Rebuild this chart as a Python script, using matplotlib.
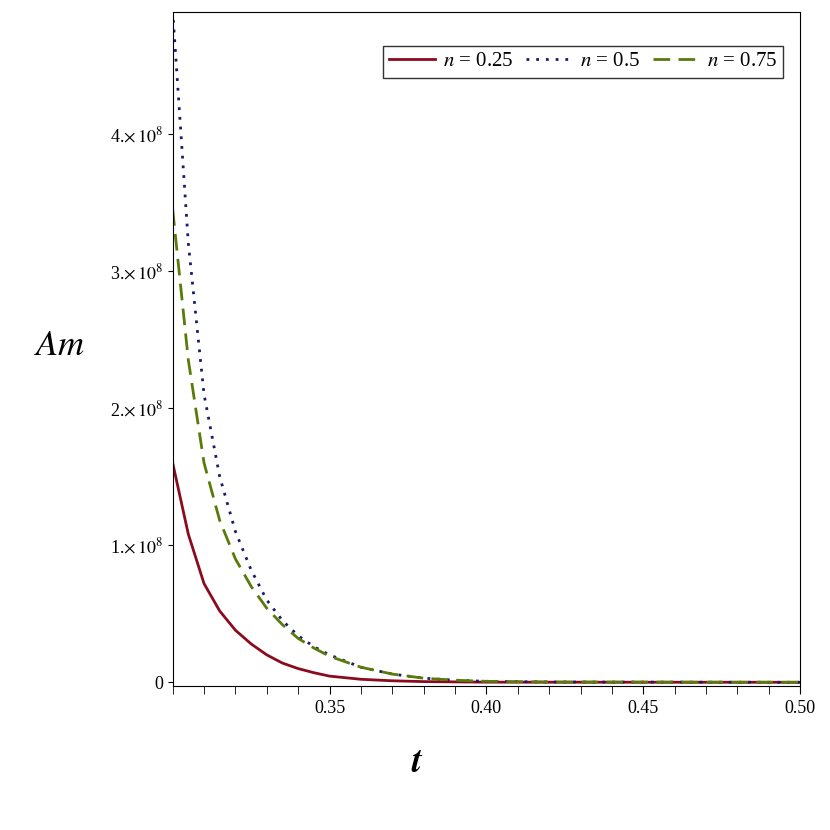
import matplotlib
matplotlib.use("Agg")
import matplotlib.pyplot as plt

plt.rcParams['font.family'] = ['Liberation Serif', 'DejaVu Serif']
plt.rcParams['mathtext.fontset'] = 'stix'

t_red = [0.300, 0.305, 0.310, 0.315, 0.320, 0.325, 0.330, 0.335, 0.340, 0.345, 0.350, 0.360, 0.370, 0.380, 0.400, 0.500]
am_red = [1.60, 1.08, 0.72, 0.52, 0.38, 0.28, 0.20, 0.14, 0.10, 0.07, 0.045, 0.022, 0.011, 0.005, 0.001, 0.0]

t_blue = [0.300, 0.305, 0.310, 0.315, 0.320, 0.325, 0.330, 0.335, 0.340, 0.345, 0.350, 0.360, 0.370, 0.380, 0.390, 0.400, 0.420, 0.500]
am_blue = [4.90, 3.20, 2.10, 1.50, 1.10, 0.82, 0.60, 0.45, 0.34, 0.26, 0.20, 0.11, 0.06, 0.03, 0.015, 0.007, 0.002, 0.0]

t_green = [0.300, 0.305, 0.310, 0.315, 0.320, 0.325, 0.330, 0.335, 0.340, 0.345, 0.350, 0.360, 0.370, 0.380, 0.390, 0.400, 0.420, 0.500]
am_green = [3.45, 2.35, 1.60, 1.18, 0.90, 0.70, 0.54, 0.42, 0.32, 0.25, 0.19, 0.11, 0.06, 0.03, 0.015, 0.007, 0.002, 0.0]

xticks = [0.35, 0.40, 0.45, 0.50]
yticks = [0, 1, 2, 3, 4]

fig = plt.figure(figsize=(8.3, 8.3), dpi=100)
ax = fig.add_axes([0.208, 0.173, 0.756, 0.813])

ax.plot(t_red, [v*1e8 for v in am_red], color='#8b0a1e', lw=2, label=r'$n$ = 0.25')
ax.plot(t_blue, [v*1e8 for v in am_blue], color='#1a1a6e', lw=2, ls=(0, (1, 2.5)), label=r'$n$ = 0.5')
ax.plot(t_green, [v*1e8 for v in am_green], color='#5a7a0a', lw=2, ls=(0, (6, 3)), label=r'$n$ = 0.75')

ax.set_xlim(0.30, 0.50)
ax.set_ylim(-0.03e8, 4.89e8)
ax.set_xticks(xticks)
ax.set_xticklabels(['%.2f' % v for v in xticks])
ax.set_xticks([0.30 + 0.01*i for i in range(21)], minor=True)
ax.set_yticks([v*1e8 for v in yticks])
ax.set_yticklabels(['0'] + [r'%d.$\times\,10^{8}$' % v for v in yticks[1:]])
ax.tick_params(labelsize=13)
ax.tick_params(axis='x', which='both', direction='out', length=6)

ax.set_xlabel(r'$\boldsymbol{t}$', fontsize=26)
ax.set_ylabel(r'$Am$', fontsize=26, rotation=0, labelpad=20)
ax.xaxis.set_label_coords(0.39, -0.09)
ax.yaxis.set_label_coords(-0.18, 0.48)

ax.legend(loc='upper right', ncol=3, fontsize=15, frameon=True, fancybox=False,
          edgecolor='black', handlelength=2.2, columnspacing=0.6, handletextpad=0.4,
          borderpad=0.3, bbox_to_anchor=(0.99, 0.965))

fig.savefig('out.png', dpi=100)
